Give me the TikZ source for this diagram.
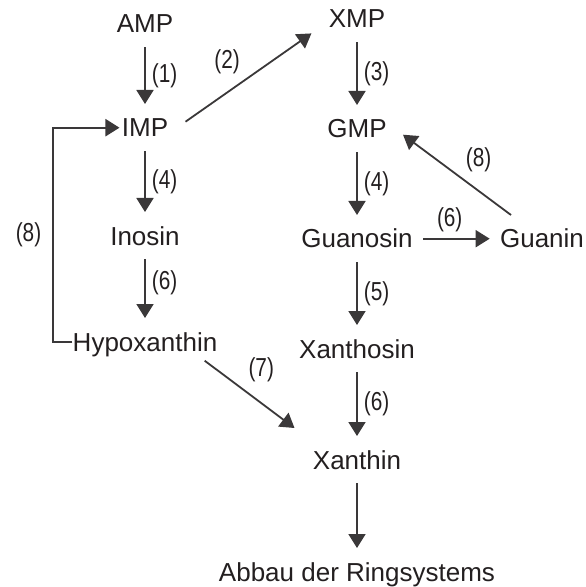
\documentclass[tikz,border=0pt]{standalone}
\usepackage{fontspec}
\setmainfont{Liberation Sans}
\newfontfamily\narrowfont{Liberation Sans}[FakeStretch=0.8]
\usetikzlibrary{arrows.meta,calc,positioning}
\definecolor{ink}{HTML}{231F20}
\definecolor{stroke}{HTML}{3A3839}
\tikzset{
  compound/.style={anchor=base,text=ink,font=\fontsize{13}{15}\selectfont,text height=9.3pt,text depth=0pt,inner xsep=5pt,inner ysep=7pt},
  enzyme/.style={text=ink,font=\narrowfont\fontsize{13}{15}\selectfont,inner sep=3pt},
  flow/.style={-{Triangle[length=7pt,width=8.5pt]},line width=0.9pt,draw=stroke},
  feedback/.style={flow,line width=1.1pt}
}

\begin{document}
\begin{tikzpicture}[x=0.5pt,y=-0.5pt]
  \useasboundingbox (0,0) rectangle (585,587);
  \node[compound] (amp) at (145,33) {AMP};
  \node[compound] (imp) at (145,137) {IMP};
  \node[compound] (inosin) at (145,245) {Inosin};
  \node[compound] (hypo) at (145,351) {Hypoxanthin};
  \node[compound] (xmp) at (357,28) {XMP};
  \node[compound] (gmp) at (357,138) {GMP};
  \node[compound] (guanosin) at (357,248) {Guanosin};
  \node[compound] (guanin) at (542,248) {Guanin};
  \node[compound] (xanthosin) at (357,358) {Xanthosin};
  \node[compound] (xanthin) at (357,469) {Xanthin};
  \node[compound] (abbau) at (357,581) {Abbau der Ringsystems};

  \draw[flow] (amp) -- node[enzyme,right] {(1)} (imp);
  \draw[flow] (imp) -- node[enzyme,right] {(4)} (inosin);
  \draw[flow] (inosin) -- node[enzyme,right,pos=0.4] {(6)} (hypo);
  \draw[flow] (xmp) -- node[enzyme,right] {(3)} (gmp);
  \draw[flow] (gmp) -- node[enzyme,right] {(4)} (guanosin);
  \draw[flow] (guanosin) -- node[enzyme,right] {(5)} (xanthosin);
  \draw[flow] (xanthosin) -- node[enzyme,right] {(6)} (xanthin);
  \draw[flow] (xanthin) -- (abbau);
  \draw[flow] (guanosin) -- node[enzyme,above,pos=0.4] {(6)} (guanin);

  \draw[flow] ([shift={(7,-6)}]imp.east) -- node[enzyme,above=6pt,pos=0.33] {(2)} ([shift={(-7,-9)}]xmp.south west);
  \draw[flow] ([shift={(-31,0)}]guanin.north) -- node[enzyme,above=6pt,pos=0.3] {(8)} ([shift={(6,6)}]gmp.east);
  \draw[flow] ([shift={(-23,19)}]hypo.east) -- node[enzyme,above=7pt,pos=0.63] {(7)} ([shift={(-8,-8)}]xanthin.north west);
  \draw[feedback] ([xshift=5]hypo.west) -- ++(-19,0) |- node[enzyme,left=2.5pt,pos=0.25] {(8)} ([xshift=4]imp.west);
\end{tikzpicture}
\end{document}
